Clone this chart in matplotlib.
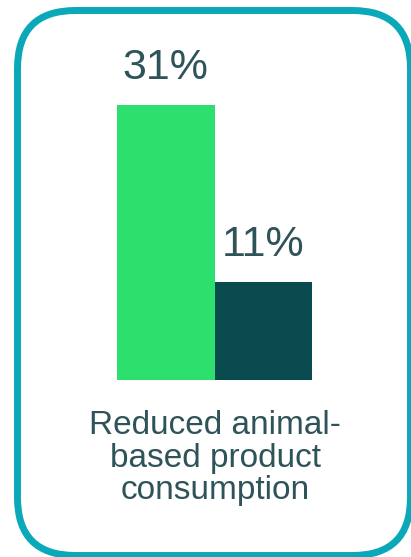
import matplotlib.pyplot as plt
from matplotlib.patches import FancyBboxPatch
from matplotlib.transforms import IdentityTransform

# data
categories = ["A", "B"]
values = [31, 11]
value_labels = ["31%", "11%"]
bar_colors = ["#2de06d", "#0a4b50"]
caption = "Reduced animal-\nbased product\nconsumption"

W, H = 411, 557
fig = plt.figure(figsize=(W / 100, H / 100), dpi=100)
plt.rcParams['font.family'] = ['Liberation Sans', 'DejaVu Sans']

# rounded border (pixel coords, origin bottom-left)
border = FancyBboxPatch((17.5, 1.5), 393, 545,
                        boxstyle="round,pad=0,rounding_size=58",
                        transform=IdentityTransform(),
                        facecolor="none", edgecolor="#0aa8b9", linewidth=5.0)
fig.add_artist(border)

# axes placed so bars land where they are in the picture
ax = fig.add_axes([117 / W, (H - 380) / H, 195 / W, 275 / H])
x = list(range(len(categories)))
ax.bar(x, values, width=1.0, color=bar_colors, align="edge")
ax.set_xlim(0, 2)
ax.set_ylim(0, 31)
ax.axis("off")

text_color = "#2e5358"
for xi, v, lab in zip(x, values, value_labels):
    ax.text(xi + 0.5, v + 1.95, lab, ha="center", va="bottom",
            fontsize=31, color=text_color, clip_on=False)

fig.text(215 / W, 1 - 410 / H, caption, ha="center", va="top",
         fontsize=24, color=text_color, linespacing=1.07)

fig.savefig("out.png", dpi=100)
